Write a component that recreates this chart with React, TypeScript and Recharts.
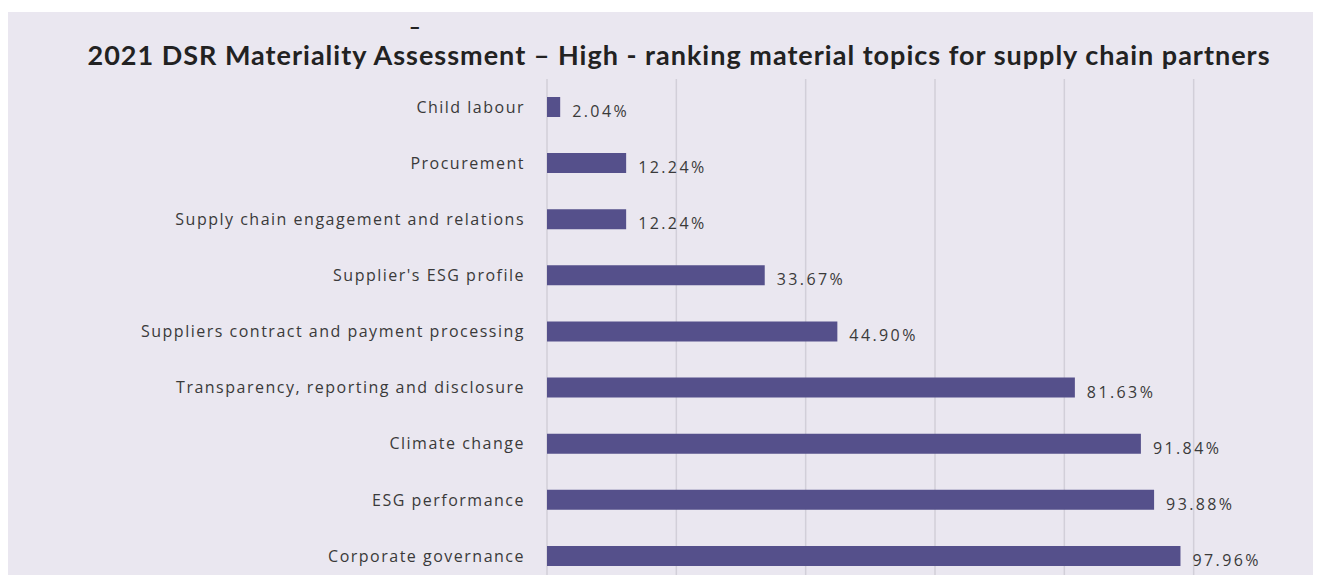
import React from "react";
import { BarChart, Bar, XAxis, YAxis, CartesianGrid, LabelList } from "recharts";

const topics = [
  "Child labour",
  "Procurement",
  "Supply chain engagement and relations",
  "Supplier's ESG profile",
  "Suppliers contract and payment processing",
  "Transparency, reporting and disclosure",
  "Climate change",
  "ESG performance",
  "Corporate governance",
];

const shares = [2.04, 12.24, 12.24, 33.67, 44.9, 81.63, 91.84, 93.88, 97.96];

const xTicks = [0, 20, 40, 60, 80, 100, 120];

const title =
  "2021 DSR Materiality Assessment \u2013 High - ranking material topics for supply chain partners";

const chartData = topics.map((name, i) => ({ name, value: shares[i] }));

// value label sits a little below the bar's centre line, like the original
const ValueLabel = (props: any) => {
  const { x, y, width, height, value } = props;
  return (
    <text
      x={Number(x) + Number(width) + 12}
      y={Number(y) + Number(height) / 2 + 4}
      dominantBaseline="central"
      fill="#3a3a3a"
      fontSize={16}
      fontFamily="'Open Sans', sans-serif"
      letterSpacing={2.4}
    >
      {`${Number(value).toFixed(2)}%`}
    </text>
  );
};

export default function App() {
  return (
    <div
      style={{
        position: "relative",
        width: 1321,
        height: 575,
        background: "#ffffff",
        overflow: "hidden",
      }}
    >
      <style>{`body{margin:0;overflow:hidden}`}</style>
      <div
        style={{
          position: "absolute",
          left: 8,
          top: 12,
          width: 1305,
          height: 563,
          background: "#EAE7F0",
          overflow: "hidden",
        }}
      >
        {/* stray dash above the title */}
        <div
          style={{
            position: "absolute",
            left: 401,
            top: 2,
            fontFamily: "Lato, sans-serif",
            fontWeight: 900,
            fontSize: 20,
            color: "#222",
          }}
        >
          –
        </div>
        <div
          style={{
            position: "absolute",
            left: 0,
            top: 26,
            width: 1342,
            textAlign: "center",
            fontFamily: "Lato, sans-serif",
            fontWeight: 700,
            fontSize: 27,
            letterSpacing: 1,
            color: "#222222",
            whiteSpace: "nowrap",
          }}
        >
          {title}
        </div>
        <div style={{ position: "absolute", left: 0, top: 0 }}>
          <BarChart
            width={1315}
            height={573}
            data={chartData}
            layout="vertical"
            margin={{ top: 67, right: 0, bottom: 0, left: 0 }}
            barCategoryGap={0}
          >
            <CartesianGrid horizontal={false} stroke="#D2CFD9" strokeWidth={1.5} />
            <XAxis
              type="number"
              domain={[0, 120]}
              ticks={xTicks}
              tick={() => <g />}
              axisLine={false}
              tickLine={false}
              height={1}
            />
            <YAxis
              type="category"
              dataKey="name"
              width={539}
              interval={0}
              axisLine={false}
              tickLine={false}
              tickSize={6}
              tickMargin={16}
              tick={{
                fill: "#3a3a3a",
                fontSize: 16,
                letterSpacing: 1.5,
                fontFamily: "'Open Sans', sans-serif",
              }}
            />
            <Bar dataKey="value" fill="#55508B" barSize={20} isAnimationActive={false}>
              <LabelList dataKey="value" content={<ValueLabel />} />
            </Bar>
          </BarChart>
        </div>
      </div>
    </div>
  );
}
